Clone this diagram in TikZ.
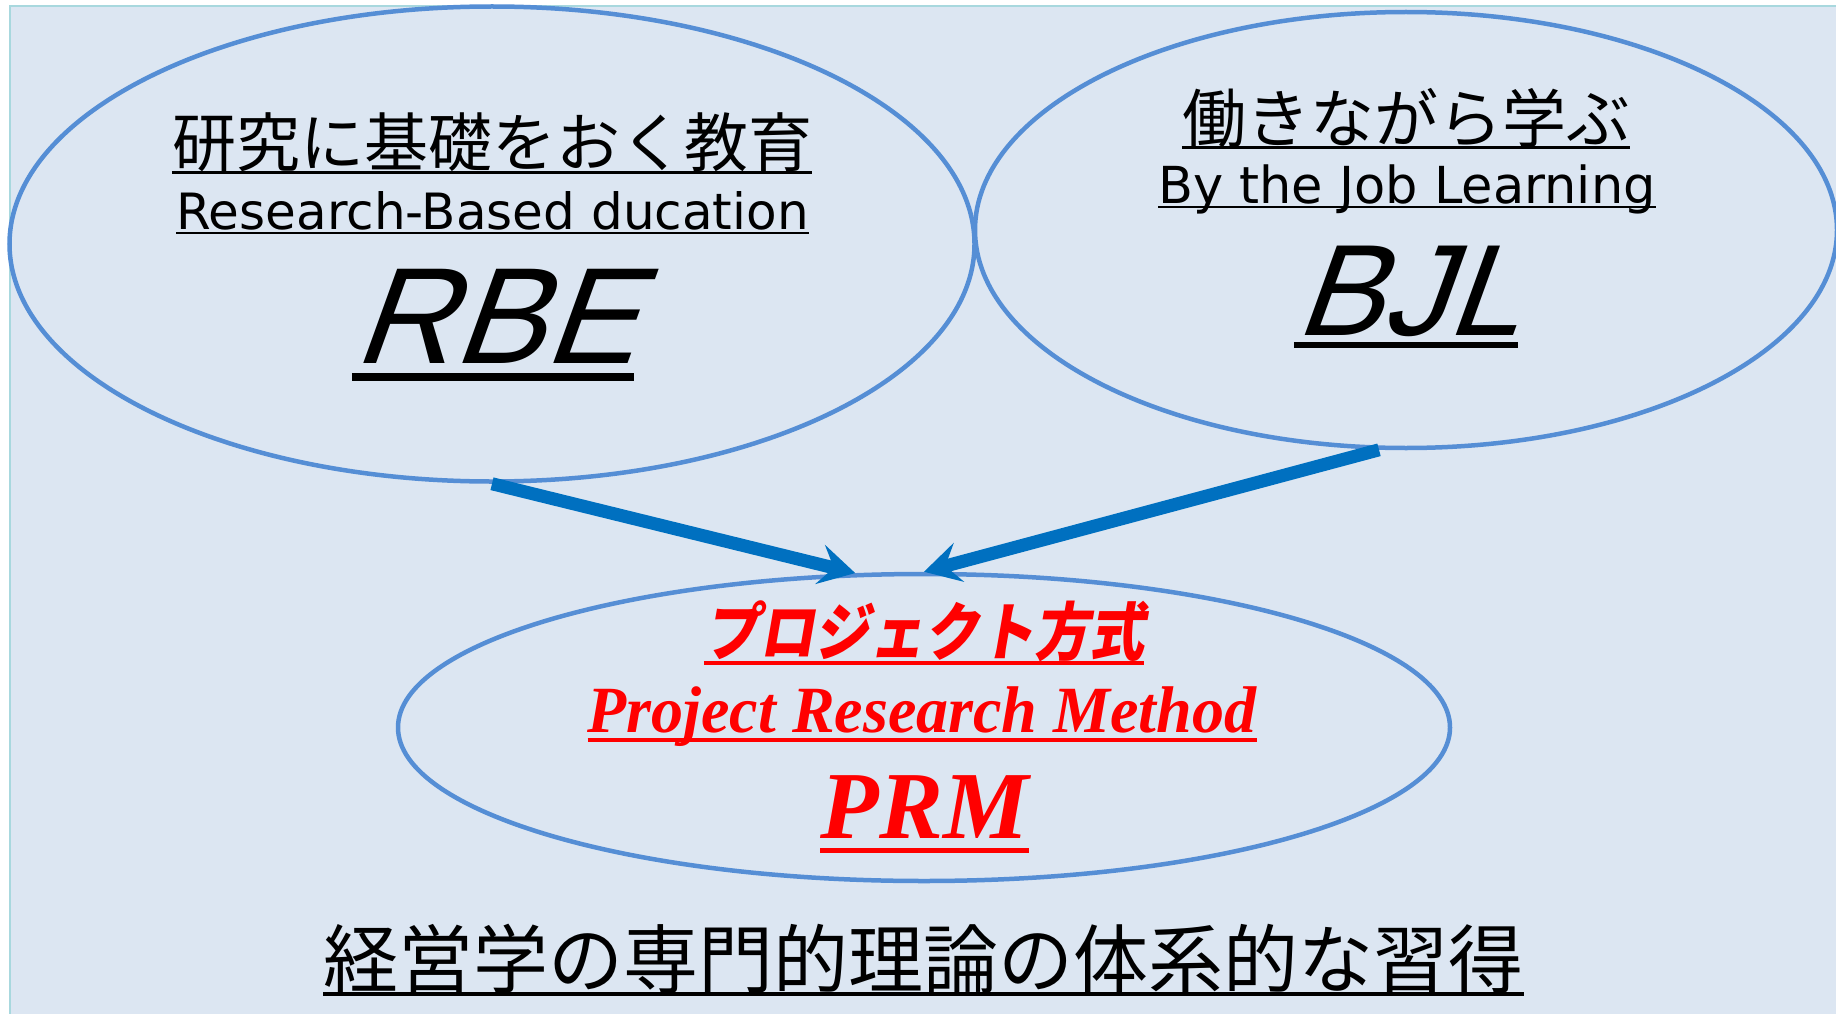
\documentclass[tikz,border=0pt]{standalone}
\usepackage{fontspec}
\setmainfont{DejaVu Sans}
\newfontfamily\jpfont{Noto Sans CJK JP}
\newfontfamily\jpslant[FakeSlant=0.2]{Noto Sans CJK JP}
\newfontfamily\sansit[FakeSlant=0.36]{Liberation Sans}
\newfontfamily\serifbi{Liberation Serif}
\usetikzlibrary{shapes.geometric,arrows.meta}
\definecolor{bgblue}{HTML}{DCE6F2}
\definecolor{rimteal}{HTML}{A8D8DE}
\definecolor{ellblue}{HTML}{558ED5}
\definecolor{arrblue}{HTML}{0070C0}
\definecolor{prmred}{HTML}{FF0000}
\newcommand{\fs}[1]{\fontsize{#1}{#1}\selectfont}
\begin{document}
\begin{tikzpicture}[x=1pt,y=-1pt,
	ell/.style={ellipse,draw=ellblue,line width=4.5pt,inner sep=0pt},
	txt/.style={inner sep=0pt},
	>={Stealth[length=36pt,width=40pt,inset=14pt]}]
	\useasboundingbox (0,0) rectangle (1836,1014);
	\fill[bgblue] (10,6) rectangle (1836,1014);
	\draw[rimteal,line width=1.2pt] (10,1014) -- (10,6) -- (1836,6);
	% ellipses
	\node[ell,minimum width=965pt,minimum height=475pt] (rbe) at (492,244) {};
	\node[ell,minimum width=862pt,minimum height=436pt] (bjl) at (1406,230) {};
	\node[ell,minimum width=1052pt,minimum height=307pt] (prm) at (924,727.5) {};
	\draw[->,arrblue,line width=13pt] (rbe.south) -- (prm.114);
	\draw[->,arrblue,line width=13pt] (bjl.263) -- (prm.north);
	% texts
	\node[txt] (jp1) at (492,142) {\jpfont\fs{64}研究に基礎をおく教育};
	\node[txt,anchor=base] (en1) at (492.5,229) {\fs{50}Research-Based ducation};
	\node[txt,anchor=base] (ab1) at (493,363) {\sansit\fs{137}RBE};
	\node[txt] (jp2) at (1406,118) {\jpfont\fs{64}働きながら学ぶ};
	\node[txt,anchor=base] (en2) at (1407,203) {\fs{51}By the Job Learning};
	\node[txt,anchor=base] (ab2) at (1406,335) {\sansit\fs{130}BJL};
	\node[txt,text=prmred] (jp3) at (924,631) {\scalebox{1}[1.15]{\jpslant\bfseries\fs{55}プロジェクト方式}};
	\node[txt,anchor=base,text=prmred] (en3) at (922,732) {\scalebox{0.97}[1]{\serifbi\bfseries\itshape\fs{66}Project Research Method}};
	\node[txt,anchor=base,text=prmred] (ab3) at (924.5,838) {\serifbi\bfseries\itshape\fs{96}PRM};
	\node[txt] (goal) at (923.5,959) {\jpfont\fs{75}経営学の専門的理論の体系的な習得};
	% underlines
	\foreach \n/\d/\w/\c in {jp1/1/3/black,jp2/0/3/black,jp3/1/4/prmred,goal/0/4/black}
	\draw[\c,line width=\w pt] ([yshift=-\d pt]\n.south west) -- ([yshift=-\d pt]\n.south east);
	\foreach \n/\d/\w/\c in {en1/4/2.5/black,ab1/14/8/black,en2/4/2.5/black,ab2/10/6/black,en3/8/4/prmred,ab3/12.5/5/prmred}
	\draw[\c,line width=\w pt] ([yshift=-\d pt]\n.base west) -- ([yshift=-\d pt]\n.base east);
\end{tikzpicture}
\end{document}
